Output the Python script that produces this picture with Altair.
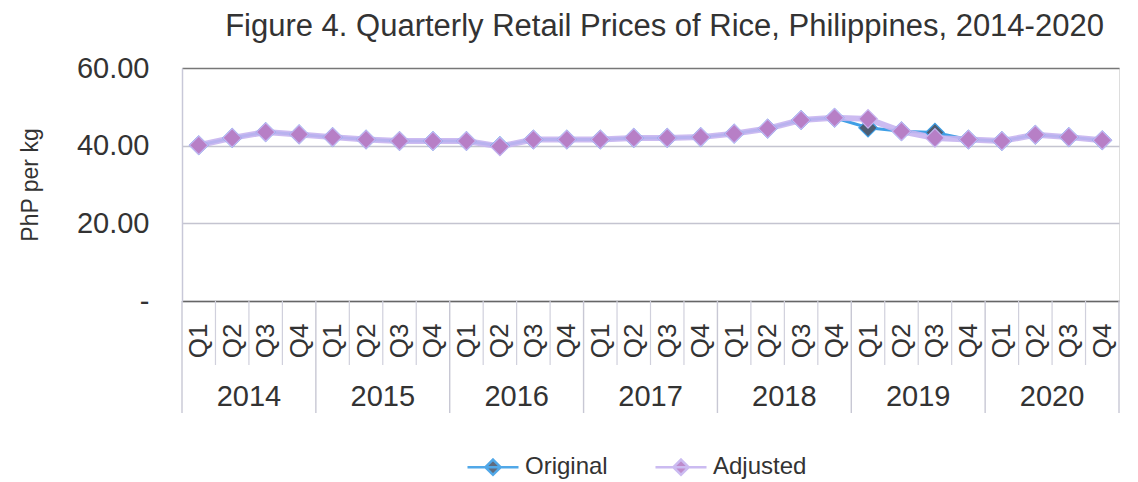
import altair as alt
import pandas as pd

years = ["2014", "2015", "2016", "2017", "2018", "2019", "2020"]
quarters = ["Q1", "Q2", "Q3", "Q4"]
adjusted = [40.1, 42.0, 43.5, 42.9, 42.2, 41.6, 41.2, 41.2,
            41.2, 39.8, 41.6, 41.6, 41.6, 42.0, 42.0, 42.2,
            43.1, 44.4, 46.6, 47.2, 46.9, 43.7, 42.0, 41.6,
            41.2, 42.8, 42.2, 41.4]
original = [40.1, 42.0, 43.5, 42.9, 42.2, 41.6, 41.2, 41.2,
            41.2, 39.9, 41.6, 41.6, 41.6, 42.0, 42.0, 42.2,
            43.1, 44.4, 46.6, 47.2, 44.6, 43.7, 43.4, 41.6,
            41.2, 42.8, 42.2, 41.4]
series = ["Original", "Adjusted"]
line_colors = ["#3f9fe6", "#c6b4f0"]
marker_colors = ["#4e5d72", "#b77fc6"]

W, H = 937, 233
FONT = "Liberation Sans"

rows = []
for i in range(len(adjusted)):
    rows.append({"idx": i, "series": "Original", "value": original[i]})
for i in range(len(adjusted)):
    rows.append({"idx": i, "series": "Adjusted", "value": adjusted[i]})
df = pd.DataFrame(rows)

n = len(adjusted)
qb = pd.DataFrame({"idx": [k - 0.5 for k in range(1, n) if k % 4 != 0]})
yb = pd.DataFrame({"idx": [k - 0.5 for k in range(0, n + 1, 4)]})
yl = pd.DataFrame({"year": years, "idx": [4 * k + 1.5 for k in range(len(years))]})

xscale = alt.Scale(domain=[-0.5, n - 0.5], nice=False, zero=False)
yscale = alt.Scale(domain=[0, 60], nice=False)
stroke_scale = alt.Scale(domain=series, range=line_colors)
fill_scale = alt.Scale(domain=series, range=marker_colors)

x_axis = alt.Axis(values=list(range(n)),
                  labelExpr="datum.value % 4 == 0 ? 'Q1' : datum.value % 4 == 1 ? 'Q2' : datum.value % 4 == 2 ? 'Q3' : 'Q4'",
                  labelAngle=-90, labelFontSize=26, labelFont=FONT,
                  labelColor="#333333", labelPadding=22,
                  labelOverlap=False, labelFlush=False,
                  ticks=False, grid=False, domainColor="#666666",
                  domainWidth=1.5)
x_enc = alt.X("idx:Q", scale=xscale, title=None, axis=x_axis)
y_enc = alt.Y("value:Q", scale=yscale, title="PhP per kg",
              axis=alt.Axis(values=[0, 20, 40, 60],
                            labelExpr="datum.value == 0 ? '-' : format(datum.value, '.2f')",
                            labelFontSize=29, labelFont=FONT, labelColor="#333333",
                            labelPadding=33, ticks=False, labelFlush=False,
                            titleFontSize=23, titleFont=FONT, titleFontWeight="normal",
                            titleColor="#333333", titlePadding=34,
                            domainColor="#c8c8d8", domainWidth=1.5,
                            gridColor={"condition": {"test": "datum.value == 60", "value": "#777777"},
                                       "value": "#c4c4d0"},
                            gridWidth=1.5))

base = alt.Chart(df)
legend = alt.Legend(orient="none", direction="horizontal", title=None,
                    legendX=284, legendY=372,
                    symbolType="M-1,0L1,0M0,-0.3L0.3,0L0,0.3L-0.3,0Z",
                    symbolSize=2601, symbolStrokeWidth=2.5,
                    labelFontSize=24, labelFont=FONT, labelColor="#333333",
                    labelOffset=5, columnPadding=42)

line_o = base.transform_filter("datum.series == 'Original'").mark_line(strokeWidth=3).encode(
    x=x_enc, y=y_enc,
    stroke=alt.Stroke("series:N", scale=stroke_scale, legend=legend))
line_a = base.transform_filter("datum.series == 'Adjusted'").mark_line(strokeWidth=6, opacity=0.9).encode(
    x=x_enc, y=y_enc,
    stroke=alt.Stroke("series:N", scale=stroke_scale, legend=legend))
pts_o = base.transform_filter("datum.series == 'Original'").mark_point(
    shape="diamond", size=340, filled=True, opacity=1, strokeWidth=1.2).encode(
    x=x_enc, y=y_enc,
    fill=alt.Fill("series:N", scale=fill_scale, legend=legend),
    stroke=alt.Stroke("series:N", scale=stroke_scale, legend=legend))
pts_a = base.transform_filter("datum.series == 'Adjusted'").mark_point(
    shape="diamond", size=340, filled=True, opacity=1, strokeWidth=1.2).encode(
    x=x_enc, y=y_enc,
    fill=alt.Fill("series:N", scale=fill_scale, legend=legend),
    stroke=alt.Stroke("series:N", scale=stroke_scale, legend=legend))

q_rules = alt.Chart(qb).mark_rule(color="#d0d0dc", strokeWidth=1.2).encode(
    x=x_enc, y=alt.value(H), y2=alt.value(H + 64))
y_rules = alt.Chart(yb).mark_rule(color="#c8c8d4", strokeWidth=1.4).encode(
    x=x_enc, y=alt.value(H), y2=alt.value(H + 112))
y_text = alt.Chart(yl).mark_text(fontSize=29, font=FONT, color="#333333", baseline="middle").encode(
    x=x_enc, y=alt.value(H + 96), text="year:N")

chart = alt.layer(q_rules, y_rules, y_text, line_o, line_a, pts_o, pts_a).properties(
    width=W, height=H,
    title=alt.TitleParams("Figure 4. Quarterly Retail Prices of Rice, Philippines, 2014-2020",
                          fontSize=31, font=FONT, fontWeight="normal", color="#333333",
                          anchor="middle", frame="group", dx=14, offset=11),
    padding={"left": 11, "top": 3, "right": 6, "bottom": 0},
).configure_view(stroke=None).configure(background="white")

chart.save("out.html", embed_options={"renderer": "svg", "actions": False})
